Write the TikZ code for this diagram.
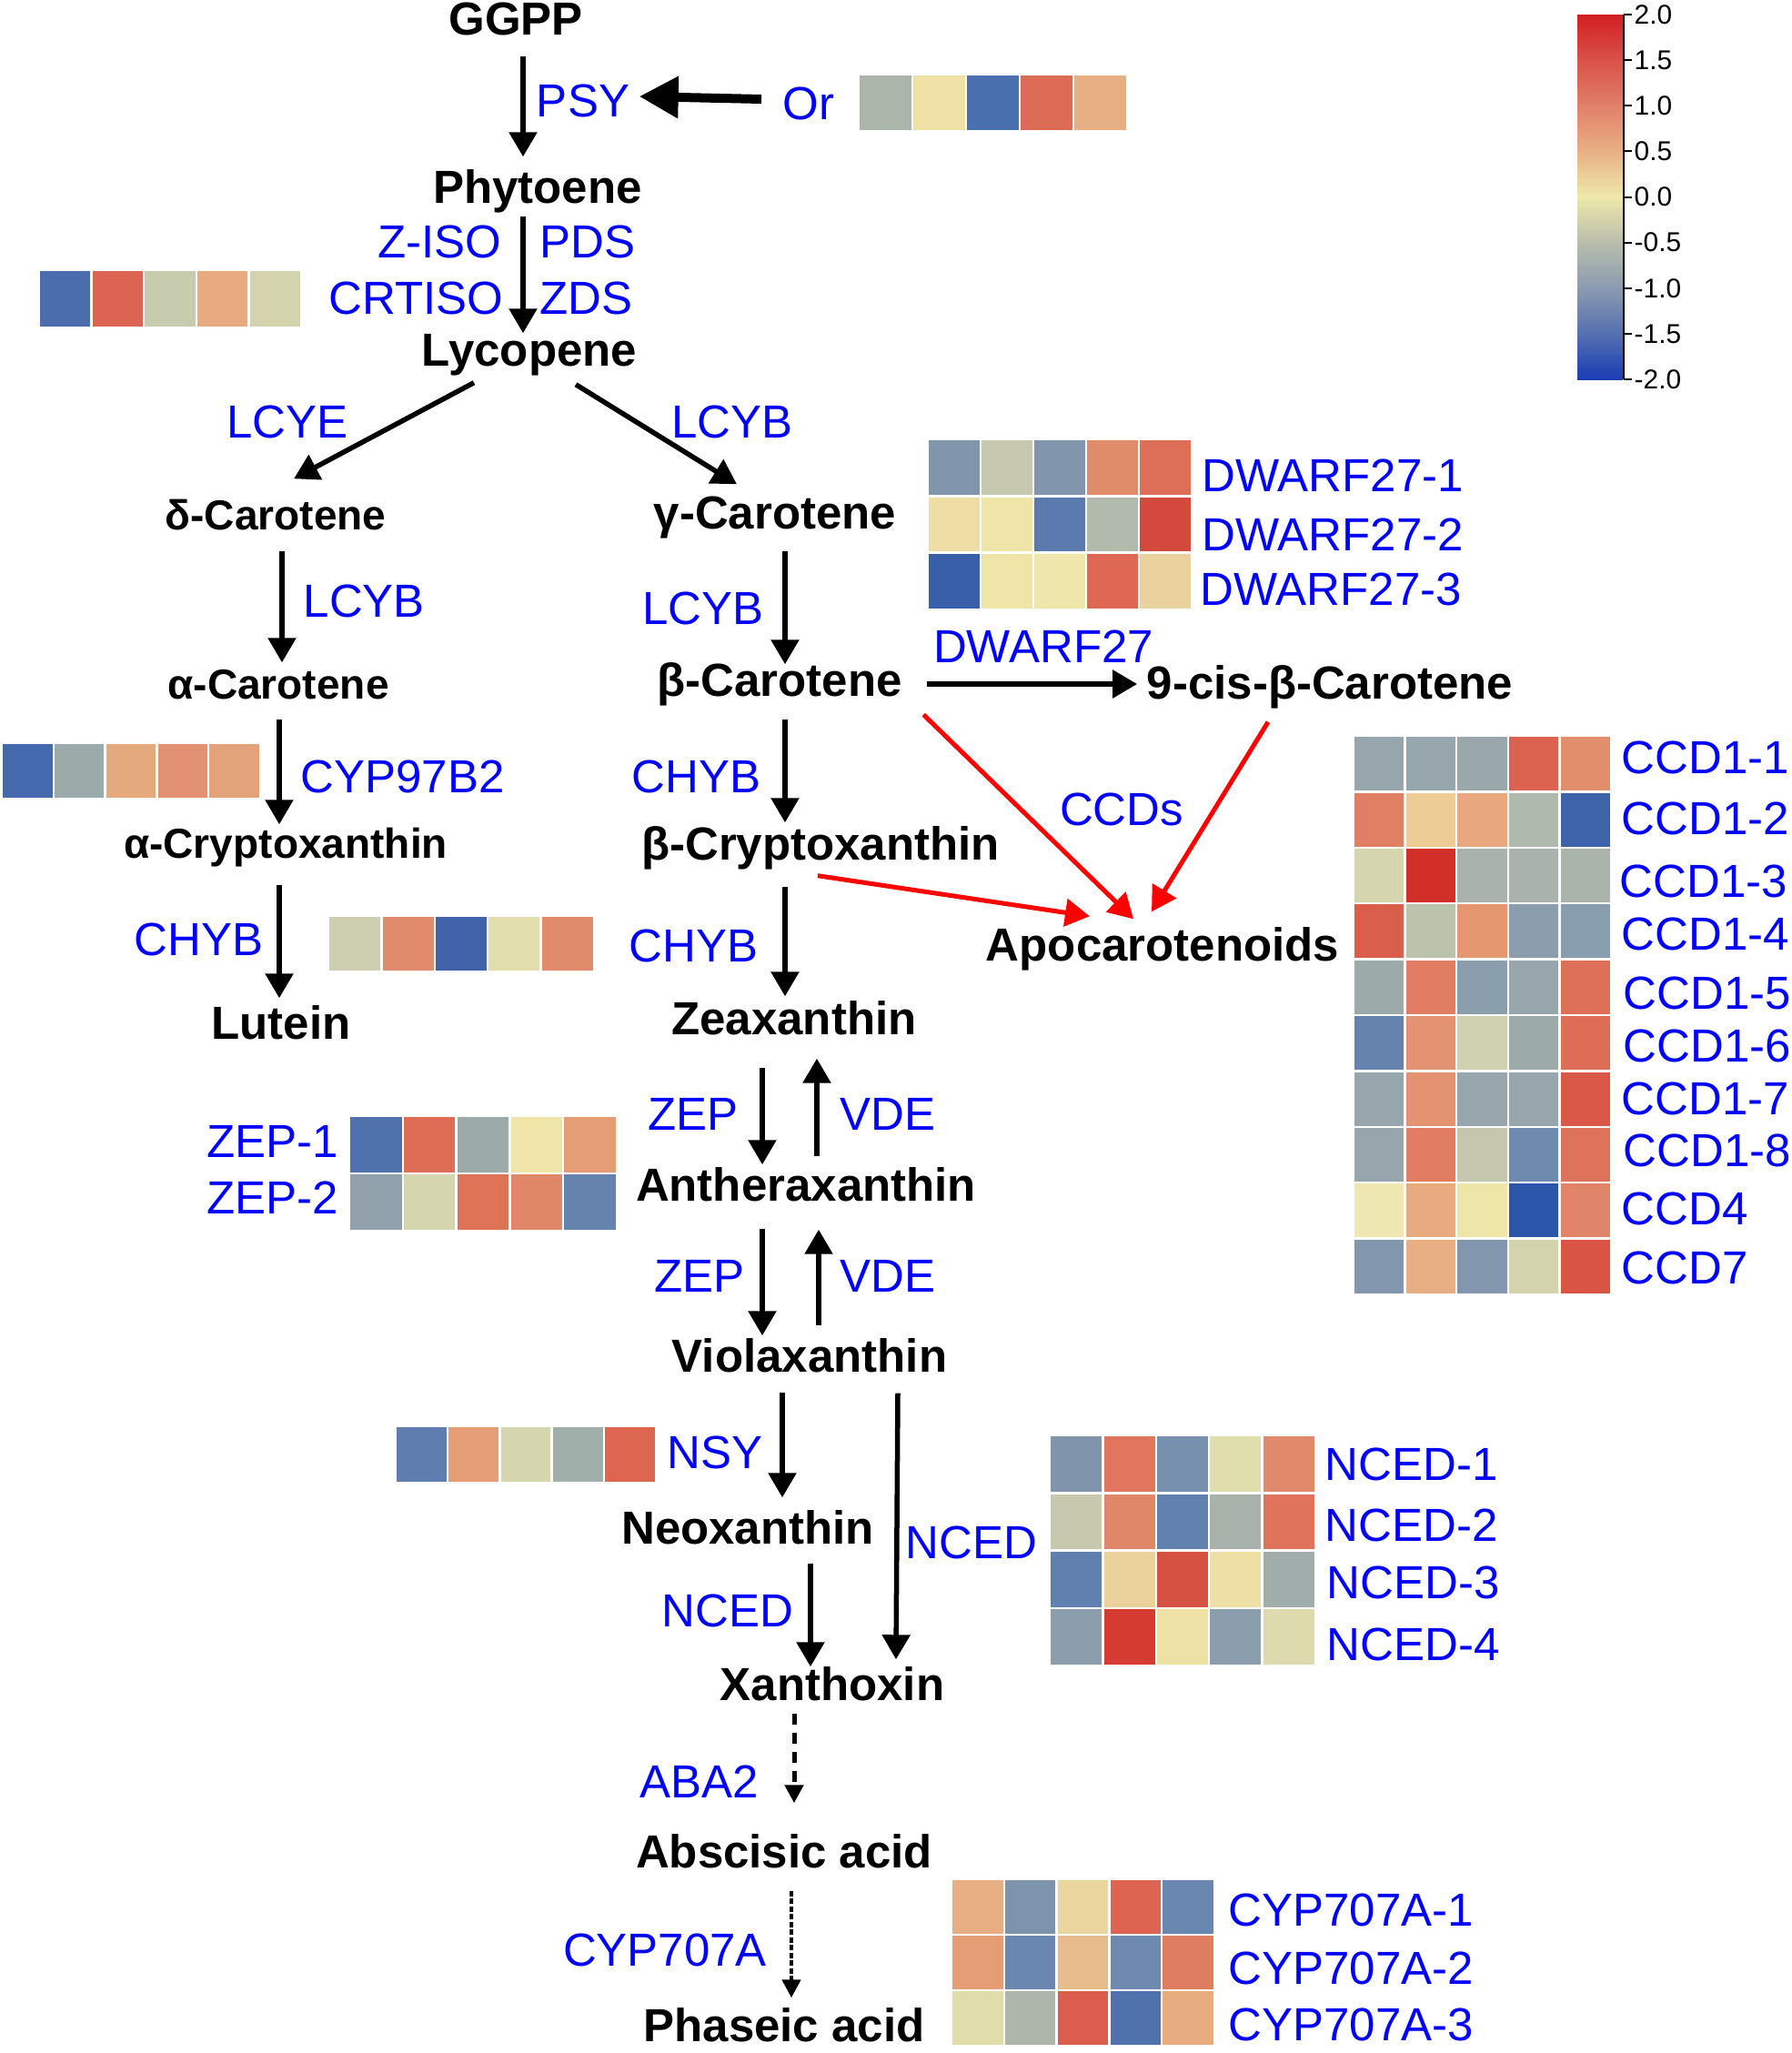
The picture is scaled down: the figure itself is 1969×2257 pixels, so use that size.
\documentclass[tikz,border=0pt]{standalone}
\usepackage{fontspec}
\setmainfont{Liberation Sans}
\usetikzlibrary{arrows.meta}

\definecolor{enzblue}{RGB}{0,0,255}
\definecolor{ccdred}{RGB}{255,0,0}
% colour bar stops, top (2.0) to bottom (-2.0)
\definecolor{cbA}{HTML}{D21F22}
\definecolor{cbB}{HTML}{D9524A}
\definecolor{cbC}{HTML}{E0806A}
\definecolor{cbD}{HTML}{E8B084}
\definecolor{cbE}{HTML}{EEE8AA}
\definecolor{cbF}{HTML}{B8BDAC}
\definecolor{cbG}{HTML}{8A9AB0}
\definecolor{cbH}{HTML}{5470B0}
\definecolor{cbI}{HTML}{1A3DB4}

% one row of five heat cells: left, top, cell width, cell height, colours
\newcommand{\heatrow}[5]{%
  \foreach \hx [count=\hi from 0] in {#5} {%
    \definecolor{cellc}{HTML}{\hx}%
    \path[heat cell] (#1+\hi*#3,#2) rectangle ++(#3,#4);
  }}

\begin{document}
\begin{tikzpicture}[x=0.01cm,y=-0.01cm,>={Triangle[length=0.27cm,width=0.3cm]},
        cmpd/.style={font=\bfseries\fontsize{14.5}{17}\selectfont,inner sep=0pt,anchor=base,
          text height=0.37cm,text depth=0.11cm},
        small cmpd/.style={cmpd,font=\bfseries\fontsize{13.1}{15}\selectfont},
        enz/.style={text=enzblue,font=\fontsize{14.5}{17}\selectfont,inner sep=0pt,anchor=base,
          text height=0.37cm,text depth=0.11cm},
        step arrow/.style={->,line width=0.055cm},
        ccd arrow/.style={->,draw=ccdred,line width=0.05cm},
        heat cell/.style={fill=cellc,draw=white,line width=0.025cm},
        tick label/.style={font=\fontsize{8.5}{10}\selectfont,inner sep=0pt,anchor=west}]
        \useasboundingbox (0,0) rectangle (1969,2257);

        % compounds
        \node[cmpd] (ggpp) at (567,38) {GGPP};
        \node[cmpd] (phy) at (591,223) {Phytoene};
        \node[cmpd] (lyc) at (582,402) {Lycopene};
        \node[small cmpd] (del) at (303,582) {δ-Carotene};
        \node[cmpd] (gam) at (852,581) {γ-Carotene};
        \node[small cmpd] (alp) at (306,768) {α-Carotene};
        \node[cmpd] (bet) at (857,765) {β-Carotene};
        \node[cmpd] (cis) at (1462,768) {9-cis-β-Carotene};
        \node[small cmpd] (acry) at (314,943) {α-Cryptoxanthin};
        \node[cmpd] (bcry) at (902,945) {β-Cryptoxanthin};
        \node[cmpd] (apo) at (1278,1056) {Apocarotenoids};
        \node[cmpd] (lut) at (309,1142) {Lutein};
        \node[cmpd] (zea) at (873,1137) {Zeaxanthin};
        \node[cmpd] (anth) at (886,1320) {Antheraxanthin};
        \node[cmpd] (vio) at (890,1508) {Violaxanthin};
        \node[cmpd] (neo) at (822,1697) {Neoxanthin};
        \node[cmpd] (xan) at (915,1869) {Xanthoxin};
        \node[cmpd] (aba) at (862,2053) {Abscisic acid};
        \node[cmpd] (pha) at (862,2244) {Phaseic acid};

        % enzymes
        \node[enz] (psy) at (641,128) {PSY};
        \node[enz] (orl) at (889,131) {Or};
        \node[enz,anchor=base east] (ziso) at (552,283) {Z-ISO};
        \node[enz,anchor=base west] (pds) at (593,283) {PDS};
        \node[enz,anchor=base east] (crtiso) at (554,345) {CRTISO};
        \node[enz,anchor=base west] (zds) at (593,345) {ZDS};
        \node[enz] (lcye) at (316,481) {LCYE};
        \node[enz] (lcyba) at (805,481) {LCYB};
        \node[enz,anchor=base west] (lcybb) at (333,678) {LCYB};
        \node[enz,anchor=base east] (lcybc) at (840,686) {LCYB};
        \node[enz] (dw) at (1147,728) {DWARF27};
        \node[enz,anchor=base west] (cyp97) at (330,871) {CYP97B2};
        \node[enz,anchor=base east] (chyba) at (837,871) {CHYB};
        \node[enz] (ccds) at (1233,907) {CCDs};
        \node[enz,anchor=base east] (chybb) at (290,1050) {CHYB};
        \node[enz,anchor=base east] (chybc) at (834,1057) {CHYB};
        \node[enz,anchor=base east] (zepa) at (812,1242) {ZEP};
        \node[enz,anchor=base west] (vdea) at (923,1242) {VDE};
        \node[enz,anchor=base east] (zepb) at (819,1420) {ZEP};
        \node[enz,anchor=base west] (vdeb) at (923,1420) {VDE};
        \node[enz] (nsy) at (786,1614) {NSY};
        \node[enz] (nceda) at (1068,1713) {NCED};
        \node[enz] (ncedb) at (800,1788) {NCED};
        \node[enz] (aba2) at (769,1976) {ABA2};
        \node[enz] (cyp707) at (731,2161) {CYP707A};

        % gene names beside the heat maps
        \node[enz,anchor=base west] (dwa) at (1321,540) {DWARF27-1};
        \node[enz,anchor=base west] (dwb) at (1321,605) {DWARF27-2};
        \node[enz,anchor=base west] (dwc) at (1319,665) {DWARF27-3};
        \node[enz,anchor=base west] (ccda) at (1782,850) {CCD1-1};
        \node[enz,anchor=base west] (ccdb) at (1782,917) {CCD1-2};
        \node[enz,anchor=base west] (ccdc) at (1780,986) {CCD1-3};
        \node[enz,anchor=base west] (ccdd) at (1782,1044) {CCD1-4};
        \node[enz,anchor=base west] (ccde) at (1784,1109) {CCD1-5};
        \node[enz,anchor=base west] (ccdf) at (1784,1167) {CCD1-6};
        \node[enz,anchor=base west] (ccdg) at (1782,1225) {CCD1-7};
        \node[enz,anchor=base west] (ccdh) at (1784,1282) {CCD1-8};
        \node[enz,anchor=base west] (ccdi) at (1782,1346) {CCD4};
        \node[enz,anchor=base west] (ccdj) at (1782,1411) {CCD7};
        \node[enz,anchor=base west] (nca) at (1456,1627) {NCED-1};
        \node[enz,anchor=base west] (ncb) at (1456,1694) {NCED-2};
        \node[enz,anchor=base west] (ncc) at (1458,1757) {NCED-3};
        \node[enz,anchor=base west] (ncd) at (1458,1825) {NCED-4};
        \node[enz,anchor=base west] (cya) at (1350,2117) {CYP707A-1};
        \node[enz,anchor=base west] (cyb) at (1350,2181) {CYP707A-2};
        \node[enz,anchor=base west] (cyc) at (1350,2243) {CYP707A-3};
        \node[enz,anchor=base east] (zpa) at (373,1272) {ZEP-1};
        \node[enz,anchor=base east] (zpb) at (373,1334) {ZEP-2};

        % heat maps
        \heatrow{944}{82}{59}{62}{ACB5A9,EFE0A6,4A6FAF,DC6B55,E6B084}
        \heatrow{43}{297}{57.6}{63}{4B6DAD,DB6552,C8CCAE,E8AB80,D3D4AE}
        \heatrow{1020}{483}{58}{62.3}{8196AD,C6C9AF,8196AD,E08B6A,DD6F58}
        \heatrow{1020}{545.3}{58}{62.3}{EEDDA5,EFE5A8,5B7AAD,B1BAAD,D4493D}
        \heatrow{1020}{607.6}{58}{62.3}{3A5FAA,EFE5A8,EEE6AA,DE6854,EAD29E}
        \heatrow{2}{817}{56.8}{61}{4569AD,9DAAAA,E5A97E,E29272,E3A37A}
        \heatrow{361}{1007}{58.4}{61}{CDCFB0,E08C6C,4063A9,E3DEAE,E08C6C}
        \heatrow{1488}{809}{56.6}{61.4}{97A6AC,97A6AC,9AA8AB,DB624F,E28E6D}
        \heatrow{1488}{870.4}{56.6}{61.4}{E07F63,EDCC96,E8A77D,B0B9AD,3F63AA}
        \heatrow{1488}{931.8}{56.6}{61.4}{D6D6AE,D12F28,AAB3AB,AAB3AB,ABB4AA}
        \heatrow{1488}{993.2}{56.6}{61.4}{DA5E4C,BCC3AD,E59870,8B9EAD,889DAE}
        \heatrow{1488}{1054.6}{56.6}{61.4}{9DAAAA,E07D62,8B9EAD,97A6AC,DE705A}
        \heatrow{1488}{1116}{56.6}{61.4}{6683AE,E39372,CFD1B0,9DAAAA,DE6D58}
        \heatrow{1488}{1177.4}{56.6}{61.4}{97A6AC,E39372,97A6AC,97A6AC,D95848}
        \heatrow{1488}{1238.8}{56.6}{61.4}{97A6AC,E07D62,C4C7AD,6F8AAF,DE735C}
        \heatrow{1488}{1300.2}{56.6}{61.4}{EFE7B1,E8AB80,EEE5A8,2C56AA,E0846A}
        \heatrow{1488}{1361.6}{56.6}{61.4}{8296AE,E8AF84,8296AE,D3D4AE,D95444}
        \heatrow{384}{1227}{58.8}{63}{4F72AD,DD6D55,9DAAAA,EFE5A8,E49D74}
        \heatrow{384}{1290}{58.8}{63}{91A2AC,D5D6AE,DF7358,E08767,6683AE}
        \heatrow{435}{1568}{57.2}{62}{5F7DAE,E49D74,D5D6AE,A1AFAA,DC6650}
        \heatrow{1154}{1578}{58.4}{63.25}{8094AC,E0765D,7690AE,E1DEAE,E18A6B}
        \heatrow{1154}{1641.25}{58.4}{63.25}{C6C9AD,E0876A,6381AE,A9B1AB,DF735C}
        \heatrow{1154}{1704.5}{58.4}{63.25}{6080AF,EBD19C,D75143,EEDFA5,A0ADAB}
        \heatrow{1154}{1767.75}{58.4}{63.25}{8C9EAC,D63B32,EEE1A6,8B9EAD,DDDAAE}
        \heatrow{1046}{2066}{57.8}{61}{E8AF84,7E94AD,EBD59E,DC6450,6A87B0}
        \heatrow{1046}{2127}{57.8}{61}{E49D74,6A87B0,E8BC8A,6F8AB0,DF7D62}
        \heatrow{1046}{2188}{57.8}{61}{E0DDAB,AEB6AC,DA5D4D,4F72AD,E7AC80}

        % colour key
        \foreach \ya/\yb/\ca/\cb in {16/66.6/cbA/cbB,66.1/116.8/cbB/cbC,116.3/166.9/cbC/cbD,
            166.4/217/cbD/cbE,216.5/267.1/cbE/cbF,266.6/317.3/cbF/cbG,316.8/367.4/cbG/cbH,
            366.9/417/cbH/cbI}
          \shade[top color=\ca,bottom color=\cb] (1734,\ya) rectangle (1784,\yb);
        \draw[line width=0.02cm] (1785,16) -- (1785,417);
        \foreach \v [count=\k from 0] in {2.0,1.5,1.0,0.5,0.0,-0.5,-1.0,-1.5,-2.0} {
          \draw[line width=0.02cm] (1785,16+\k*50.125) -- ++(9,0);
          \node[tick label] (tk\k) at (1796,16+\k*50.125) {\v};
        }

        % reactions
        \draw[step arrow] ([shift={(8,12)}]ggpp.south) -- ([shift={(-16,-13)}]phy.north);
        \draw[-{Triangle[length=0.43cm,width=0.44cm]},line width=0.1cm]
          ([shift={(-23,-9)}]orl.west) -- ([shift={(10,-9)}]psy.east);
        \draw[step arrow] ([shift={(-16,3)}]phy.south) -- ([shift={(-7,2)}]lyc.north);
        \draw[step arrow] ([shift={(-61,7)}]lyc.south) -- ([shift={(20,-18)}]del.north);
        \draw[step arrow] ([shift={(51,9)}]lyc.south) -- ([shift={(-42,-11)}]gam.north);
        \draw[step arrow] ([shift={(7,12)}]del.south) -- ([shift={(4,-2)}]alp.north);
        \draw[step arrow] ([shift={(11,13)}]gam.south) -- ([shift={(6,3)}]bet.north);
        \draw[step arrow] ([shift={(1,11)}]alp.south) -- ([shift={(-7,1)}]acry.north);
        \draw[step arrow] ([shift={(6,14)}]bet.south) -- ([shift={(-39,-3)}]bcry.north);
        \draw[step arrow] ([shift={(-7,18)}]acry.south) -- ([shift={(-2,-7)}]lut.north);
        \draw[step arrow] ([shift={(-39,18)}]bcry.south) -- ([shift={(-10,-4)}]zea.north);
        \draw[step arrow] ([shift={(27,0)}]bet.east) -- ([shift={(-10,-3)}]cis.west);
        \draw[step arrow] ([shift={(-35,25)}]zea.south) -- ([shift={(-48,-2)}]anth.north);
        \draw[step arrow] ([shift={(12,-11)}]anth.north) -- ([shift={(25,15)}]zea.south);
        \draw[step arrow] ([shift={(-48,19)}]anth.south) -- ([shift={(-52,-2)}]vio.north);
        \draw[step arrow] ([shift={(10,-13)}]vio.north) -- ([shift={(14,20)}]anth.south);
        \draw[step arrow] ([shift={(-30,11)}]vio.south) -- ([shift={(38,-13)}]neo.north);
        \draw[step arrow] ([shift={(97,12)}]vio.south) -- ([shift={(70,-7)}]xan.north);
        \draw[step arrow] ([shift={(69,10)}]neo.south) -- ([shift={(-24,1)}]xan.north);
        \draw[-{Triangle[length=0.2cm,width=0.2cm]},line width=0.05cm,dash pattern=on 0.12cm off 0.09cm]
          ([shift={(-42,3)}]xan.south) -- ([shift={(11,-33)}]aba.north);
        \draw[-{Triangle[length=0.2cm,width=0.2cm]},line width=0.045cm,dash pattern=on 0.06cm off 0.025cm]
          ([shift={(8,14)}]aba.south) -- ([shift={(8,-10)}]pha.north);

        % cleavage to apocarotenoids
        \draw[ccd arrow] ([shift={(23,9)}]bet.south east) -- ([shift={(-32,-8)}]apo.north);
        \draw[ccd arrow] ([shift={(-68,14)}]cis.south) -- ([shift={(-12,-16)}]apo.north);
        \draw[ccd arrow] ([shift={(-3,6)}]bcry.south) -- ([shift={(-80,-11)}]apo.north);
\end{tikzpicture}
\end{document}
